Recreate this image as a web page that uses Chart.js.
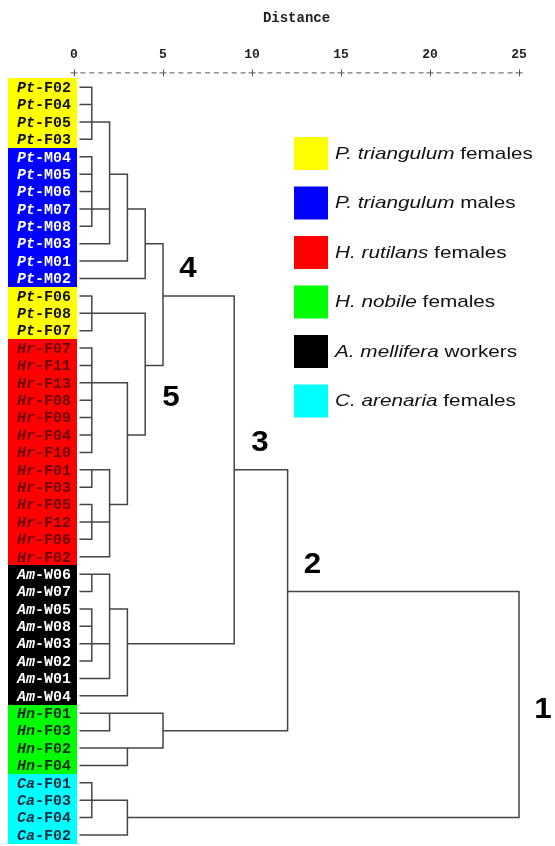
<!DOCTYPE html>
<html><head><meta charset="utf-8">
<script src="https://cdn.jsdelivr.net/npm/chart.js@4/dist/chart.umd.min.js"></script>
<style>html,body{margin:0;padding:0;background:#fff}#wrap{width:555px;height:846px;position:relative}</style>
</head><body><div id="wrap"><canvas id="c"></canvas></div>
<script>
// ---- data ----
const leaves = ['Pt-F02','Pt-F04','Pt-F05','Pt-F03','Pt-M04','Pt-M05','Pt-M06','Pt-M07','Pt-M08','Pt-M03','Pt-M01','Pt-M02',
  'Pt-F06','Pt-F08','Pt-F07','Hr-F07','Hr-F11','Hr-F13','Hr-F08','Hr-F09','Hr-F04','Hr-F10','Hr-F01','Hr-F03','Hr-F05','Hr-F12','Hr-F06','Hr-F02',
  'Am-W06','Am-W07','Am-W05','Am-W08','Am-W03','Am-W02','Am-W01','Am-W04','Hn-F01','Hn-F03','Hn-F02','Hn-F04','Ca-F01','Ca-F03','Ca-F04','Ca-F02'];
const groupKeys = ['Pt-F','Pt-M','Hr-F','Hn-F','Am-W','Ca-F'];
const groupSpecies = ['P. triangulum','P. triangulum','H. rutilans','H. nobile','A. mellifera','C. arenaria'];
const groupCaste = ['females','males','females','females','workers','females'];
const groupColors = ['#ffff00','#0000ff','#ff0000','#00ff00','#000000','#00ffff'];
const groupTextColors = ['#111111','#ffffff','#6a0000','#0a2a0a','#ffffff','#0a2a3c'];
// merges: negative = leaf (-1 -> leaves[0]), positive = earlier merge (1-based)
const mergeChildren = [[-1,-2,-3,-4],[-5,-6,-7,-8,-9],[1,2,-10],[3,-11],[4,-12],[-13,-14,-15],
  [-16,-17,-18,-19,-20,-21,-22],[-23,-24],[-25,-26,-27],[8,9,-28],[7,10],[6,11],[5,12],
  [-29,-30],[-31,-32,-33,-34],[14,15,-35],[16,-36],[13,17],[-37,-38],[-39,-40],[19,20],[18,21],
  [-41,-42,-43],[23,-44],[22,24]];
const mergeDistance = [1,1,2,3,4,1,1,1,1,2,3,4,5,1,1,2,3,9,2,3,5,12,1,3,25];
const mergeRow = [2,7,5,7,9,13,17,22,25,24,20,16,12,28,32,30,32,22,36,38,37,29,41,42,null];
const xTicks = [0,5,10,15,20,25];
const clusterNames = ['1','2','3','4','5'];
const clusterAt = [[26.35,35.75],[13.4,27.4],[10.45,20.4],[6.4,10.4],[5.45,17.8]];

// ---- build dendrogram segments ----
const LEAF_START = 0.35;
function childPos(c){ return c < 0 ? {d: LEAF_START, r: -c - 1} : {d: mergeDistance[c-1], r: mergeRow[c-1]}; }
const segs = [];
mergeChildren.forEach((ch, i) => {
  const h = mergeDistance[i];
  const rows = [];
  ch.forEach(c => { const p = childPos(c); segs.push({x:p.d,y:p.r},{x:h,y:p.r},{x:null,y:null}); rows.push(p.r); });
  segs.push({x:h,y:Math.min(...rows)},{x:h,y:Math.max(...rows)},{x:null,y:null});
});
function groupOf(name){ return groupKeys.indexOf(name.slice(0,4)); }

const MONO = '"Liberation Mono", "Courier New", monospace';
const SANS = '"Liberation Sans", Arial, sans-serif';

function wideText(ctx, text, x, y, sx){
  ctx.save(); ctx.translate(x, y); ctx.scale(sx, 1); ctx.fillText(text, 0, 0); ctx.restore();
  return ctx.measureText(text).width * sx;
}

const deco = {
  id: 'deco',
  beforeDatasetsDraw(chart) {
    const {ctx, chartArea, scales:{x, y}} = chart;
    ctx.save();
    // leaf label boxes and labels
    leaves.forEach((name, i) => {
      const g = groupOf(name);
      const top = y.getPixelForValue(i - 0.5), bot = y.getPixelForValue(i + 0.5);
      ctx.fillStyle = groupColors[g];
      ctx.fillRect(8, Math.round(top), 69, Math.round(bot) - Math.round(top));
    });
    leaves.forEach((name, i) => {
      const g = groupOf(name);
      const cy = y.getPixelForValue(i);
      ctx.fillStyle = groupTextColors[g];
      ctx.textBaseline = 'middle'; ctx.textAlign = 'left';
      const pre = name.slice(0,2), rest = name.slice(2);
      ctx.font = 'italic bold 15px ' + MONO;
      ctx.fillText(pre, 17, cy + 1);
      const w = ctx.measureText(pre).width;
      ctx.font = 'bold 15px ' + MONO;
      ctx.fillText(rest, 17 + w, cy + 1);
    });
    // dashed axis with + marks
    const ay = chartArea.top;
    ctx.strokeStyle = '#555'; ctx.lineWidth = 1;
    for (let t = 0; t < xTicks.length; t++) {
      const px = x.getPixelForValue(xTicks[t]);
      ctx.beginPath();
      ctx.moveTo(px - 3.5, ay + 0.5); ctx.lineTo(px + 3.5, ay + 0.5);
      ctx.moveTo(px + 0.5, ay - 3); ctx.lineTo(px + 0.5, ay + 4);
      ctx.stroke();
      if (t < xTicks.length - 1) {
        const nx = x.getPixelForValue(xTicks[t+1]);
        const step = (nx - px) / 10;
        ctx.beginPath();
        for (let k = 1; k <= 9; k++) {
          const cx = px + k * step;
          ctx.moveTo(cx - 2.5, ay + 0.5); ctx.lineTo(cx + 2.5, ay + 0.5);
        }
        ctx.stroke();
      }
    }
    // legend
    groupColors.forEach((col, i) => {
      const top = 137 + 49.5 * i;
      ctx.fillStyle = col;
      ctx.fillRect(294, top, 34, 33);
      ctx.fillStyle = '#111';
      ctx.textBaseline = 'middle'; ctx.textAlign = 'left';
      ctx.font = 'italic 17px ' + SANS;
      const w = wideText(ctx, groupSpecies[i], 335, top + 17, 1.22);
      ctx.font = '17px ' + SANS;
      wideText(ctx, ' ' + groupCaste[i], 335 + w, top + 17, 1.22);
    });
    // cluster numbers
    ctx.fillStyle = '#000';
    ctx.font = 'bold 29px ' + SANS;
    ctx.textAlign = 'center'; ctx.textBaseline = 'middle';
    clusterNames.forEach((t, i) => {
      wideText(ctx, t, x.getPixelForValue(clusterAt[i][0]), y.getPixelForValue(clusterAt[i][1]) + 1, 1.08);
    });
    ctx.restore();
  }
};

new Chart(document.getElementById('c'), {
  type: 'scatter',
  data: { datasets: [{
    data: segs, showLine: true, spanGaps: false, pointRadius: 0, pointHoverRadius: 0,
    borderColor: '#454545', borderWidth: 1.5, borderCapStyle: 'square', borderJoinStyle: 'miter', clip: false
  }]},
  options: {
    responsive: true, maintainAspectRatio: false, animation: false,
    events: [],
    layout: { padding: { left: 74, right: 36, top: 4, bottom: 11 } },
    plugins: { legend: { display: false }, tooltip: { enabled: false } },
    scales: {
      x: {
        type: 'linear', position: 'top', min: 0, max: 25,
        afterBuildTicks: s => { s.ticks = xTicks.map(v => ({value: v})); },
        ticks: { font: { family: MONO, size: 13, weight: 'bold' }, color: '#222', padding: 10, maxRotation: 0 },
        grid: { display: false, drawTicks: false },
        border: { display: false },
        title: { display: true, text: 'Distance', color: '#222', font: { family: MONO, size: 14, weight: 'bold' }, padding: { top: 6, bottom: 10 } }
      },
      y: { type: 'linear', reverse: true, min: -0.85, max: 43, display: false }
    }
  },
  plugins: [deco]
});
</script></body></html>
